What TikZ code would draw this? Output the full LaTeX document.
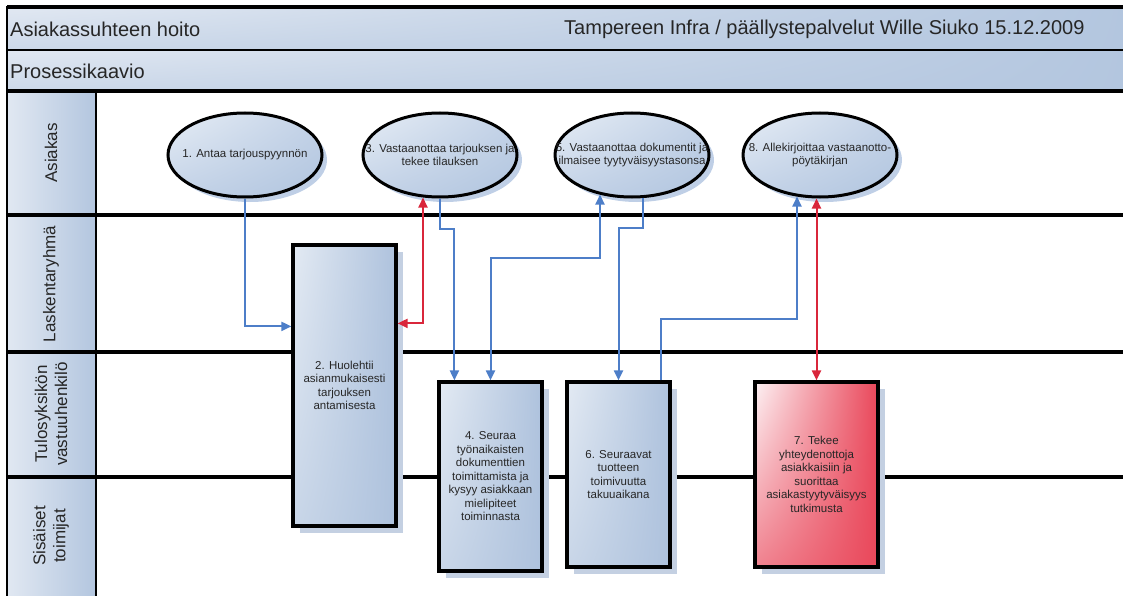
\documentclass[tikz,border=0pt]{standalone}
\usepackage{fontspec}
\setmainfont{Liberation Sans}
\usepackage{tikz}
\usetikzlibrary{calc,shadows,shadings,arrows.meta,shapes.geometric}

\definecolor{bandA}{HTML}{E1E8F2}
\definecolor{bandB}{HTML}{B3C6DF}
\definecolor{ovalA}{HTML}{E6EDF5}
\definecolor{ovalB}{HTML}{C3D2E7}
\definecolor{ovalC}{HTML}{B1C5DF}
\definecolor{ovalshade}{HTML}{BFCFE6}
\definecolor{boxA}{HTML}{E3EAF3}
\definecolor{boxB}{HTML}{AEC2DD}
\definecolor{boxshade}{HTML}{C4D0E2}
\definecolor{redA}{HTML}{FDF2F4}
\definecolor{redB}{HTML}{E9475A}
\definecolor{flowblue}{HTML}{4D7EC8}
\definecolor{flowred}{HTML}{D9263B}

\begin{document}
\begin{tikzpicture}[x=1pt,y=-1pt,
	band/.style={draw=black,line width=2pt,upper left=bandA,upper right=bandB,lower left=bandA!55!bandB,lower right=bandB},
	lanecell/.style={draw=black,line width=2pt,left color=bandA,right color=bandB},
	laneline/.style={line width=3.6pt},
	bandtext/.style={anchor=west,inner sep=0pt,text=black!85,font=\fontsize{20}{22}\selectfont},
	lanetext/.style={rotate=90,align=center,text=black!85,font=\fontsize{17}{20}\selectfont},
	oval/.style={ellipse,draw=black,line width=3pt,minimum width=154pt,minimum height=84pt,inner sep=0pt,
		upper left=ovalA,upper right=ovalB,lower left=ovalB,lower right=ovalC,
		drop shadow={fill=ovalshade,opacity=1,shadow xshift=5pt,shadow yshift=-5pt}},
	ovtxt/.style={align=center,inner sep=0pt,text=black!85,font=\fontsize{11.5}{13}\selectfont},
	task/.style={draw=black,line width=3.2pt,minimum width=103pt,inner sep=0pt,align=center,text=black!85,
		font=\fontsize{11.5}{13.5}\selectfont,
		upper left=boxA,upper right=boxB,lower left=boxA!50!boxB,lower right=boxB,
		drop shadow={fill=boxshade,opacity=1,shadow xshift=7pt,shadow yshift=-7pt}},
	redtask/.style={task,upper left=redA,upper right=redB,lower left=redB!65!redA,lower right=redB},
	flow/.style={draw=flowblue,line width=2pt,-{Triangle[length=10pt,width=9pt]}},
	flowboth/.style={flow,{Triangle[length=10pt,width=9pt]}-{Triangle[length=10pt,width=9pt]}},
	redflow/.style={flowboth,draw=flowred}]
	\useasboundingbox (0,0) rectangle (1123,596);
	% otsikkokaistat
	\draw[band] (7,7) rectangle (1130,50);
	\draw[band] (7,50) rectangle (1130,91);
	\draw[laneline] (7,7) -- (1130,7);
	\node[bandtext] (title) at (10,29) {Asiakassuhteen hoito};
	\node[bandtext] (org) at (564,29) {Tampereen Infra / päällystepalvelut Wille Siuko 15.12.2009};
	\node[bandtext] (sub) at (10,71) {Prosessikaavio};
	% kaistat
	\draw[lanecell] (7,91) rectangle (96,215);
	\draw[lanecell] (7,215) rectangle (96,352);
	\draw[lanecell] (7,352) rectangle (96,477);
	\draw[lanecell] (7,477) rectangle (96,600);
	\draw[laneline] (7,91) -- (1130,91);
	\draw[laneline] (7,215) -- (1130,215);
	\draw[laneline] (7,352) -- (1130,352);
	\draw[laneline] (7,477) -- (1130,477);
	\node[lanetext] (l1) at (51,153) {Asiakas};
	\node[lanetext] (l2) at (51,284) {Laskentaryhmä};
	\node[lanetext] (l3) at (51,414) {Tulosyksikön\\vastuuhenkilö};
	\node[lanetext] (l4) at (51,536) {Sisäiset\\toimijat};
	% asiakkaan vaiheet
	\node[oval] (e1) at (245,155) {};
	\node[oval] (e3) at (440,155) {};
	\node[oval] (e5) at (632,155) {};
	\node[oval] (e8) at (820,155) {};
	\node[ovtxt] (e1t) at (e1) {1. Antaa tarjouspyynnön};
	\node[ovtxt] (e3t) at (e3) {3. Vastaanottaa tarjouksen ja\\tekee tilauksen};
	\node[ovtxt] (e5t) at (e5) {5. Vastaanottaa dokumentit ja\\ilmaisee tyytyväisyystasonsa};
	\node[ovtxt] (e8t) at (e8) {8. Allekirjoittaa vastaanotto-\\pöytäkirjan};
	% tehtävät
	\node[task,minimum height=281pt] (b2) at (344.5,385.5) {2. Huolehtii\\asianmukaisesti\\tarjouksen\\antamisesta};
	\node[task,minimum height=189pt] (b4) at (490.5,476.5) {4. Seuraa\\työnaikaisten\\dokumenttien\\toimittamista ja\\kysyy asiakkaan\\mielipiteet\\toiminnasta};
	\node[task,minimum height=185pt] (b6) at (618.5,474.5) {6. Seuraavat\\tuotteen\\toimivuutta\\takuuaikana};
	\node[redtask,minimum width=123pt,minimum height=185pt] (b7) at (816.5,474.5) {7. Tekee\\yhteydenottoja\\asiakkaisiin ja\\suorittaa\\asiakastyytyväisyys\\tutkimusta};
	% yhteydet
	\draw[flow] (e1.south) |- ($(b2.north west)+(0,83)$);
	\draw[redflow] ($(e3.south)+(-17,-1)$) |- ($(b2.north east)+(0,80)$);
	\draw[flow] (e3.south) -- ++(0,30) -| ($(b4.north west)+(17,0)$);
	\draw[flowboth] (b4.north) -- ++(0,-122) -| ($(e5.south)+(-32,-4)$);
	\draw[flow] ($(e5.south)+(11,-1)$) -- ++(0,30) -| (b6.north);
	\draw[flow] ($(b6.north east)+(-11,0)$) -- ++(0,-61) -| ($(e8.south)+(-23,-2)$);
	\draw[redflow] (b7.north) -- (b7.north |- e8.south);
\end{tikzpicture}
\end{document}
